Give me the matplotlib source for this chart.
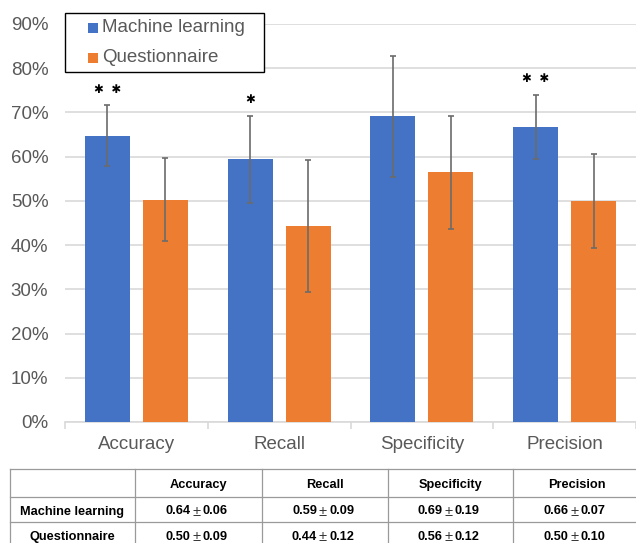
import matplotlib
matplotlib.use("Agg")
import matplotlib.pyplot as plt
import numpy as np
from matplotlib.lines import Line2D
from matplotlib.patches import Rectangle

plt.rcParams['font.family'] = ['Liberation Sans', 'DejaVu Sans']

categories = ["Accuracy", "Recall", "Specificity", "Precision"]
ml_values = [0.647, 0.594, 0.691, 0.667]
ml_errors = [0.069, 0.099, 0.137, 0.073]
q_values = [0.503, 0.443, 0.565, 0.500]
q_errors = [0.093, 0.150, 0.128, 0.107]
significance = ["\u2731  \u2731", "\u2731", "", "\u2731  \u2731"]
series_names = ["Machine learning", "Questionnaire"]
yticks = [0.0, 0.1, 0.2, 0.3, 0.4, 0.5, 0.6, 0.7, 0.8, 0.9]

table_cols = ["Accuracy", "Recall", "Specificity", "Precision"]
table_ml_mean = ["0.64", "0.59", "0.69", "0.66"]
table_ml_sd = ["0.06", "0.09", "0.19", "0.07"]
table_q_mean = ["0.50", "0.44", "0.56", "0.50"]
table_q_sd = ["0.09", "0.12", "0.12", "0.10"]

W, H = 636, 543
fig = plt.figure(figsize=(W / 100, H / 100), dpi=100)

blue = "#4472C4"
orange = "#ED7D31"
grid_c = "#D9D9D9"
text_c = "#595959"

ax = fig.add_axes([65 / W, (H - 422) / H, (636 - 65) / W, (422 - 24) / H])
x = np.arange(len(categories))
bw = 0.315
off = 0.203
ekw = dict(ecolor="#6b6b6b", elinewidth=1.2, capsize=2.5, capthick=1.2)
ax.bar(x - off, ml_values, bw, color=blue, yerr=ml_errors, error_kw=ekw, zorder=3)
ax.bar(x + off, q_values, bw, color=orange, yerr=q_errors, error_kw=ekw, zorder=3)

for i, s in enumerate(significance):
    if s:
        ax.text(x[i] - off, ml_values[i] + ml_errors[i] + 0.022, s, ha="center", va="bottom",
                fontsize=8.5, color="black", family="DejaVu Sans", zorder=5)

ax.set_xlim(-0.5, 3.5)
ax.set_ylim(0, 0.9)
ax.set_yticks(yticks)
ax.set_yticklabels([f"{int(round(t*100))}%" for t in yticks], fontsize=13.5, color=text_c)
ax.yaxis.grid(True, color=grid_c, linewidth=1.2, zorder=0)
ax.set_axisbelow(True)
ax.tick_params(axis="y", length=0, pad=12)
ax.set_xticks(x)
ax.set_xticklabels(categories, fontsize=13.5, color=text_c)
ax.set_xticks(np.arange(-0.5, 4.0, 1.0), minor=True)
ax.tick_params(axis="x", which="major", length=0, pad=10)
ax.tick_params(axis="x", which="minor", length=5, color=grid_c, width=1.2)
for sp in ["top", "right", "left"]:
    ax.spines[sp].set_visible(False)
ax.spines["bottom"].set_color(grid_c)
ax.spines["bottom"].set_linewidth(1.2)

# overlay axes in pixel coordinates for legend and table
tax = fig.add_axes([0, 0, 1, 1])
tax.set_xlim(0, W)
tax.set_ylim(H, 0)
tax.axis("off")

# legend
tax.add_patch(Rectangle((65, 13), 199, 59, facecolor="white", edgecolor="black", lw=1.0, zorder=6))
for k, (name, col) in enumerate(zip(series_names, [blue, orange])):
    cy = 28 + 30 * k
    tax.add_patch(Rectangle((88, cy - 5), 10, 10, facecolor=col, edgecolor="none", zorder=7))
    tax.text(102, cy, name, ha="left", va="center", fontsize=13.5, color=text_c, zorder=7)

# table
line_c = "#9a9a9a"
col_edges = [10, 135, 262, 388, 513, 640]
row_edges = [469, 497, 522, 548]
for yy in row_edges:
    tax.add_line(Line2D([col_edges[0], col_edges[-1]], [yy, yy], color=line_c, lw=0.9))
for xx in col_edges:
    tax.add_line(Line2D([xx, xx], [row_edges[0], row_edges[-1]], color=line_c, lw=0.9))

tfs = 9.2

def cell_center(r, c):
    return (col_edges[c] + col_edges[c + 1]) / 2, (row_edges[r] + row_edges[r + 1]) / 2 + 0.5

def cell_text(r, c, s):
    cx, cy = cell_center(r, c)
    tax.text(cx, cy, s, ha="center", va="center_baseline", fontsize=tfs, fontweight="bold", color="black")

def cell_pm(r, c, m, sd):
    cx, cy = cell_center(r, c)
    cx -= 2
    tax.text(cx - 6, cy, m, ha="right", va="center_baseline", fontsize=tfs, fontweight="bold", color="black")
    tax.text(cx, cy, "\u00b1", ha="center", va="center_baseline", fontsize=10.5, color="#333333")
    tax.text(cx + 6, cy, sd, ha="left", va="center_baseline", fontsize=tfs, fontweight="bold", color="black")

for j, s in enumerate(table_cols):
    cell_text(0, j + 1, s)
cell_text(1, 0, series_names[0])
cell_text(2, 0, series_names[1])
for j in range(len(table_cols)):
    cell_pm(1, j + 1, table_ml_mean[j], table_ml_sd[j])
    cell_pm(2, j + 1, table_q_mean[j], table_q_sd[j])

fig.savefig("out.png", dpi=100)
